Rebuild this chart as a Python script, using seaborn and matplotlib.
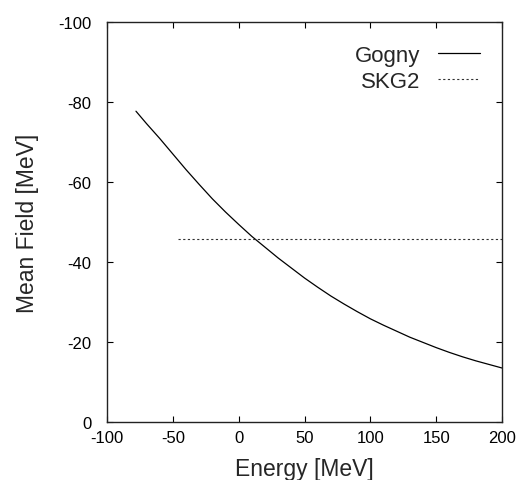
import matplotlib
matplotlib.use("Agg")
import matplotlib.pyplot as plt
import seaborn as sns
import pandas as pd

# Data
gogny_energy = [-78, -70, -60, -50, -40, -30, -20, -10, 0, 10, 20, 30, 40, 50, 60,
                70, 80, 90, 100, 110, 120, 130, 140, 150, 160, 170, 180, 190, 200]
gogny_field = [-77.7, -74.6, -70.9, -67.0, -63.1, -59.4, -55.8, -52.5, -49.4, -46.4,
               -43.7, -41.0, -38.5, -36.0, -33.7, -31.5, -29.5, -27.6, -25.8, -24.2,
               -22.7, -21.2, -19.9, -18.6, -17.4, -16.3, -15.3, -14.4, -13.5]
skg2_energy = [-46, 200]
skg2_field = [-45.8, -45.8]

x_ticks = [-100, -50, 0, 50, 100, 150, 200]
y_ticks = [0, -20, -40, -60, -80, -100]

sns.set_style("ticks")
plt.rcParams["font.family"] = ["Liberation Sans", "DejaVu Sans"]

fig = plt.figure(figsize=(5.18, 4.81), dpi=100)
ax = fig.add_axes([107 / 518, 1 - 423 / 481, 395 / 518, 400 / 481])

df_g = pd.DataFrame({"Energy": gogny_energy, "Field": gogny_field})
df_s = pd.DataFrame({"Energy": skg2_energy, "Field": skg2_field})

sns.lineplot(data=df_g, x="Energy", y="Field", ax=ax, color="black", lw=0.9,
             label="Gogny", sort=False)
sns.lineplot(data=df_s, x="Energy", y="Field", ax=ax, color="#333333", lw=0.8,
             label="SKG2", sort=False)
ax.lines[1].set_dashes((2, 2.2))

ax.set_xlim(-100, 200)
ax.set_ylim(0, -100)
ax.set_xticks(x_ticks)
ax.set_yticks(y_ticks)
ax.set_xticklabels([str(v) for v in x_ticks])
ax.set_yticklabels([str(v) for v in y_ticks])

ax.tick_params(direction="in", top=True, right=True, length=4.5, width=0.8,
               labelsize=12, colors="black")
ax.tick_params(axis="x", pad=6)
ax.tick_params(axis="y", pad=11)
for s in ax.spines.values():
    s.set_visible(True)
    s.set_linewidth(1.0)
    s.set_color("#222222")

ax.set_xlabel("Energy [MeV]", fontsize=16.5, labelpad=8.5)
ax.set_ylabel("Mean Field [MeV]", fontsize=16.5, labelpad=14)

leg = ax.legend(loc="upper right", bbox_to_anchor=(0.944, 0.943), frameon=False,
                markerfirst=False, fontsize=16, handlelength=1.9, handletextpad=0.8,
                labelspacing=0.22, borderaxespad=0, borderpad=0)

fig.savefig("out.png", dpi=100)
